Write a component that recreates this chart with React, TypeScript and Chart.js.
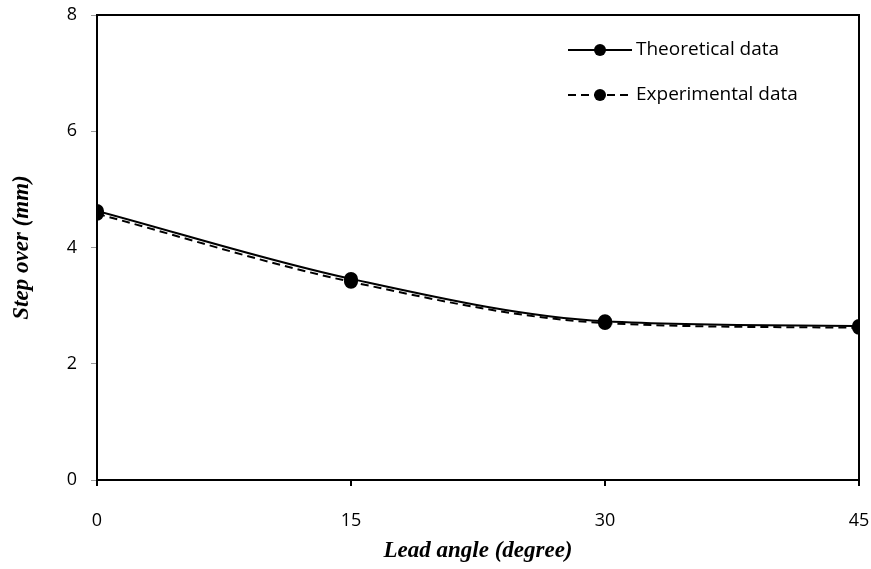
import React, { useEffect, useRef } from "react";
import { Chart, registerables } from "chart.js";

Chart.register(...registerables);

const leadAngles = [0, 15, 30, 45];
const theoretical = [4.63, 3.46, 2.73, 2.65];
const experimental = [4.58, 3.41, 2.70, 2.62];
const yTicks = [0, 2, 4, 6, 8];
const xTicks = [0, 15, 30, 45];
const seriesNames = ["Theoretical data", "Experimental data"];

const tickFont = "'Open Sans', 'Noto Sans', sans-serif";
const titleFont = "'Liberation Serif', 'DejaVu Serif', serif";

const frameAndLegend = {
  id: "frameAndLegend",
  afterDatasetsDraw(chart: any) {
    const { ctx, chartArea } = chart;
    ctx.save();
    ctx.strokeStyle = "#000";
    ctx.lineWidth = 2;
    ctx.strokeRect(chartArea.left, chartArea.top, chartArea.right - chartArea.left, chartArea.bottom - chartArea.top);
    const x0 = 568, x1 = 632, ys = [50, 95];
    chart.data.datasets.forEach((ds: any, i: number) => {
      const y = ys[i];
      ctx.beginPath();
      ctx.setLineDash(ds.borderDash || []);
      ctx.lineWidth = 2;
      ctx.strokeStyle = "#000";
      ctx.moveTo(x0, y);
      ctx.lineTo(x1, y);
      ctx.stroke();
      ctx.setLineDash([]);
      ctx.beginPath();
      ctx.arc((x0 + x1) / 2, y, 6, 0, Math.PI * 2);
      ctx.fillStyle = "#000";
      ctx.fill();
      ctx.font = `19px ${tickFont}`;
      ctx.textBaseline = "middle";
      ctx.textAlign = "left";
      ctx.fillStyle = "#000";
      ctx.fillText(ds.label, x1 + 4, y);
    });
    ctx.restore();
  },
};

export default function App() {
  const ref = useRef<HTMLCanvasElement>(null);
  useEffect(() => {
    document.body.style.margin = "0";
    const chart = new Chart(ref.current!, {
      type: "line",
      data: {
        datasets: [
          {
            label: seriesNames[0],
            data: leadAngles.map((x, i) => ({ x, y: theoretical[i] })),
            borderColor: "#000",
            backgroundColor: "#000",
            borderWidth: 2,
            pointRadius: 6,
            pointHoverRadius: 6,
            tension: 0.4,
            cubicInterpolationMode: "monotone",
          },
          {
            label: seriesNames[1],
            data: leadAngles.map((x, i) => ({ x, y: experimental[i] })),
            borderColor: "#000",
            backgroundColor: "#000",
            borderWidth: 2,
            borderDash: [8, 5],
            pointRadius: 6,
            pointHoverRadius: 6,
            tension: 0.4,
            cubicInterpolationMode: "monotone",
          },
        ],
      },
      options: {
        animation: false,
        responsive: false,
        layout: { padding: { top: 15, right: 12, left: 0, bottom: 0 } },
        plugins: { legend: { display: false }, tooltip: { enabled: false } },
        scales: {
          x: {
            type: "linear",
            min: 0,
            max: 45,
            afterBuildTicks: (s: any) => { s.ticks = xTicks.map((v) => ({ value: v })); },
            afterFit: (s: any) => { s.height = 89; s.paddingLeft = 0; s.paddingRight = 0; },
            grid: { display: true, drawOnChartArea: false, drawTicks: true, tickLength: 6, color: "#000", lineWidth: 2 },
            border: { display: true, color: "#000", width: 2 },
            ticks: { padding: 24, color: "#000", font: { family: tickFont, size: 18 } },
            title: { display: true, text: "Lead angle (degree)", color: "#000", padding: { top: 4, bottom: 4 }, font: { family: titleFont, size: 23, weight: "bold", style: "italic" } },
          },
          y: {
            type: "linear",
            min: 0,
            max: 8,
            afterBuildTicks: (s: any) => { s.ticks = yTicks.map((v) => ({ value: v })); },
            afterFit: (s: any) => { s.width = 97; s.paddingTop = 0; s.paddingBottom = 0; },
            grid: { display: true, drawOnChartArea: false, drawTicks: true, tickLength: 6, color: "#999", lineWidth: 1 },
            border: { display: true, color: "#000", width: 2 },
            ticks: { padding: 14, color: "#000", font: { family: tickFont, size: 18 } },
            title: { display: true, text: "Step over (mm)", color: "#000", padding: { top: 8, bottom: 10 }, font: { family: titleFont, size: 23, weight: "bold", style: "italic" } },
          },
        },
      },
      plugins: [frameAndLegend],
    } as any);
    return () => chart.destroy();
  }, []);
  return (
    <div style={{ width: 871, height: 569 }}>
      <canvas ref={ref} width={871} height={569} style={{ display: "block" }} />
    </div>
  );
}
